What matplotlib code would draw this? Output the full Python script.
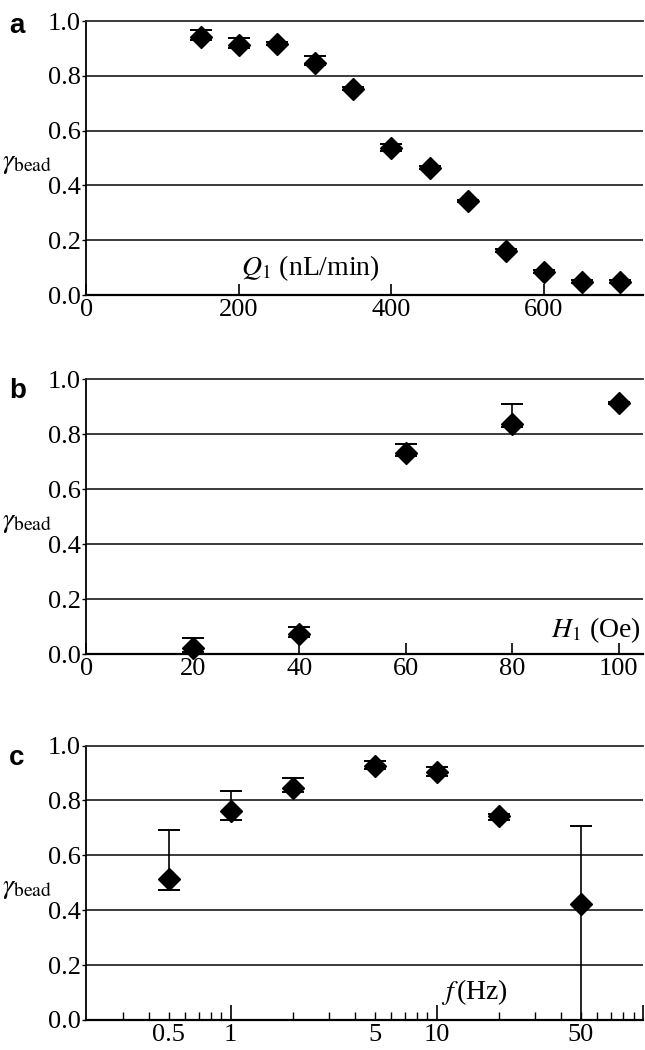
import matplotlib
matplotlib.use("Agg")
import matplotlib.pyplot as plt
from matplotlib.ticker import FixedLocator, FuncFormatter

# ─────────────────────────────────────────────
# Data
# ─────────────────────────────────────────────
# a: bead fraction vs flow rate Q1 (nL/min)
q1 = [150, 200, 250, 300, 350, 400, 450, 500, 550, 600, 650, 700]
gamma_q = [0.942, 0.911, 0.917, 0.848, 0.752, 0.535, 0.465, 0.343, 0.162, 0.085, 0.049, 0.049]
err_q_lo = [0.010, 0.010, 0.005, 0.010, 0.005, 0.010, 0.005, 0.005, 0.005, 0.005, 0.005, 0.005]
err_q_hi = [0.026, 0.027, 0.008, 0.023, 0.006, 0.015, 0.006, 0.005, 0.005, 0.005, 0.005, 0.005]

# b: bead fraction vs field H1 (Oe)
h1 = [20, 40, 60, 80, 100]
gamma_h = [0.021, 0.075, 0.731, 0.837, 0.913]
err_h_lo = [0.015, 0.012, 0.010, 0.010, 0.005]
err_h_hi = [0.038, 0.025, 0.034, 0.073, 0.005]

# c: bead fraction vs frequency f (Hz)
freq = [0.5, 1, 2, 5, 10, 20, 50]
gamma_f = [0.515, 0.761, 0.845, 0.924, 0.903, 0.742, 0.421]
err_f_lo = [0.042, 0.031, 0.015, 0.009, 0.013, 0.015, 0.421]
err_f_hi = [0.178, 0.073, 0.037, 0.021, 0.018, 0.008, 0.284]

Y_TICKS = [0.0, 0.2, 0.4, 0.6, 0.8, 1.0]

plt.rcParams["font.family"] = ["Liberation Serif", "DejaVu Serif"]
plt.rcParams["mathtext.fontset"] = "stix"

fig = plt.figure(figsize=(6.45, 10.5), dpi=100)

# axes rectangles: [left, bottom, width, height] in figure fraction
left, width = 0.134, 0.863
rects = [
    [left, 0.719, width, 0.261],
    [left, 0.377, width, 0.262],
    [left, 0.0286, width, 0.2614],
]


def style_axes(ax):
    ax.set_ylim(0, 1.0)
    ax.set_yticks(Y_TICKS)
    ax.set_yticklabels([f"{v:.1f}" for v in Y_TICKS])
    for v in Y_TICKS[1:-1]:
        ax.axhline(v, color="#2b2b2b", lw=1.3, zorder=1)
    ax.spines["right"].set_visible(False)
    ax.spines["top"].set_color("#2b2b2b")
    ax.spines["top"].set_linewidth(1.3)
    ax.spines["left"].set_linewidth(1.3)
    ax.spines["bottom"].set_linewidth(1.6)
    ax.tick_params(axis="y", direction="out", length=3, width=1.0, pad=1, labelsize=19)
    ax.tick_params(axis="x", direction="in", length=8, width=1.2, pad=3, labelsize=19)
    ax.text(-0.152, 0.48, r"$\gamma_{\mathrm{bead}}$", transform=ax.transAxes,
            ha="left", va="center", fontsize=20)


def draw_points(ax, x, y, lo, hi):
    ax.errorbar(x, y, yerr=[lo, hi], fmt="D", color="black", ms=11,
                ecolor="black", elinewidth=1.2, capsize=8, capthick=1.4,
                zorder=3, clip_on=False)


# ── a ──
ax_a = fig.add_axes(rects[0])
style_axes(ax_a)
ax_a.set_xlim(0, 730)
ax_a.set_xticks([0, 200, 400, 600])
draw_points(ax_a, q1, gamma_q, err_q_lo, err_q_hi)
ax_a.text(294, 0.10, r"$Q_1$ (nL/min)", ha="center", va="center", fontsize=20)

# ── b ──
ax_b = fig.add_axes(rects[1])
style_axes(ax_b)
ax_b.set_xlim(0, 104.6)
ax_b.set_xticks([0, 20, 40, 60, 80, 100])
draw_points(ax_b, h1, gamma_h, err_h_lo, err_h_hi)
ax_b.text(0.995, 0.087, r"$H_1$ (Oe)", transform=ax_b.transAxes,
          ha="right", va="center", fontsize=20)

# ── c ──
ax_c = fig.add_axes(rects[2])
style_axes(ax_c)
ax_c.set_xscale("log")
ax_c.set_xlim(0.2, 100)
major = [1, 10, 100]
minor = [0.3, 0.4, 0.5, 0.6, 0.7, 0.8, 0.9,
         2, 3, 4, 5, 6, 7, 8, 9,
         20, 30, 40, 50, 60, 70, 80, 90]
major_labels = {1: "1", 10: "10"}
minor_labels = {0.5: "0.5", 5: "5", 50: "50"}
ax_c.xaxis.set_major_locator(FixedLocator(major))
ax_c.xaxis.set_minor_locator(FixedLocator(minor))
ax_c.xaxis.set_major_formatter(FuncFormatter(lambda v, p: major_labels.get(round(v), "")))
ax_c.xaxis.set_minor_formatter(FuncFormatter(
    lambda v, p: minor_labels.get(round(v, 3) if v < 1 else round(v), "")))
ax_c.tick_params(axis="x", which="major", direction="in", length=11, width=1.2,
                 pad=3, labelsize=19)
ax_c.tick_params(axis="x", which="minor", direction="in", length=6, width=1.0,
                 pad=3, labelsize=19)
draw_points(ax_c, freq, gamma_f, err_f_lo, err_f_hi)
ax_c.text(15.2, 0.103, r"$f\,$(Hz)", ha="center", va="center", fontsize=20)

# panel letters
for letter, yb in [("a", 1 - 33 / 1050), ("b", 1 - 398 / 1050), ("c", 1 - 765 / 1050)]:
    fig.text(0.014, yb, letter, family=["Liberation Sans", "DejaVu Sans"],
             weight="bold", fontsize=20, va="baseline", ha="left")

fig.savefig("out.png", dpi=100)
